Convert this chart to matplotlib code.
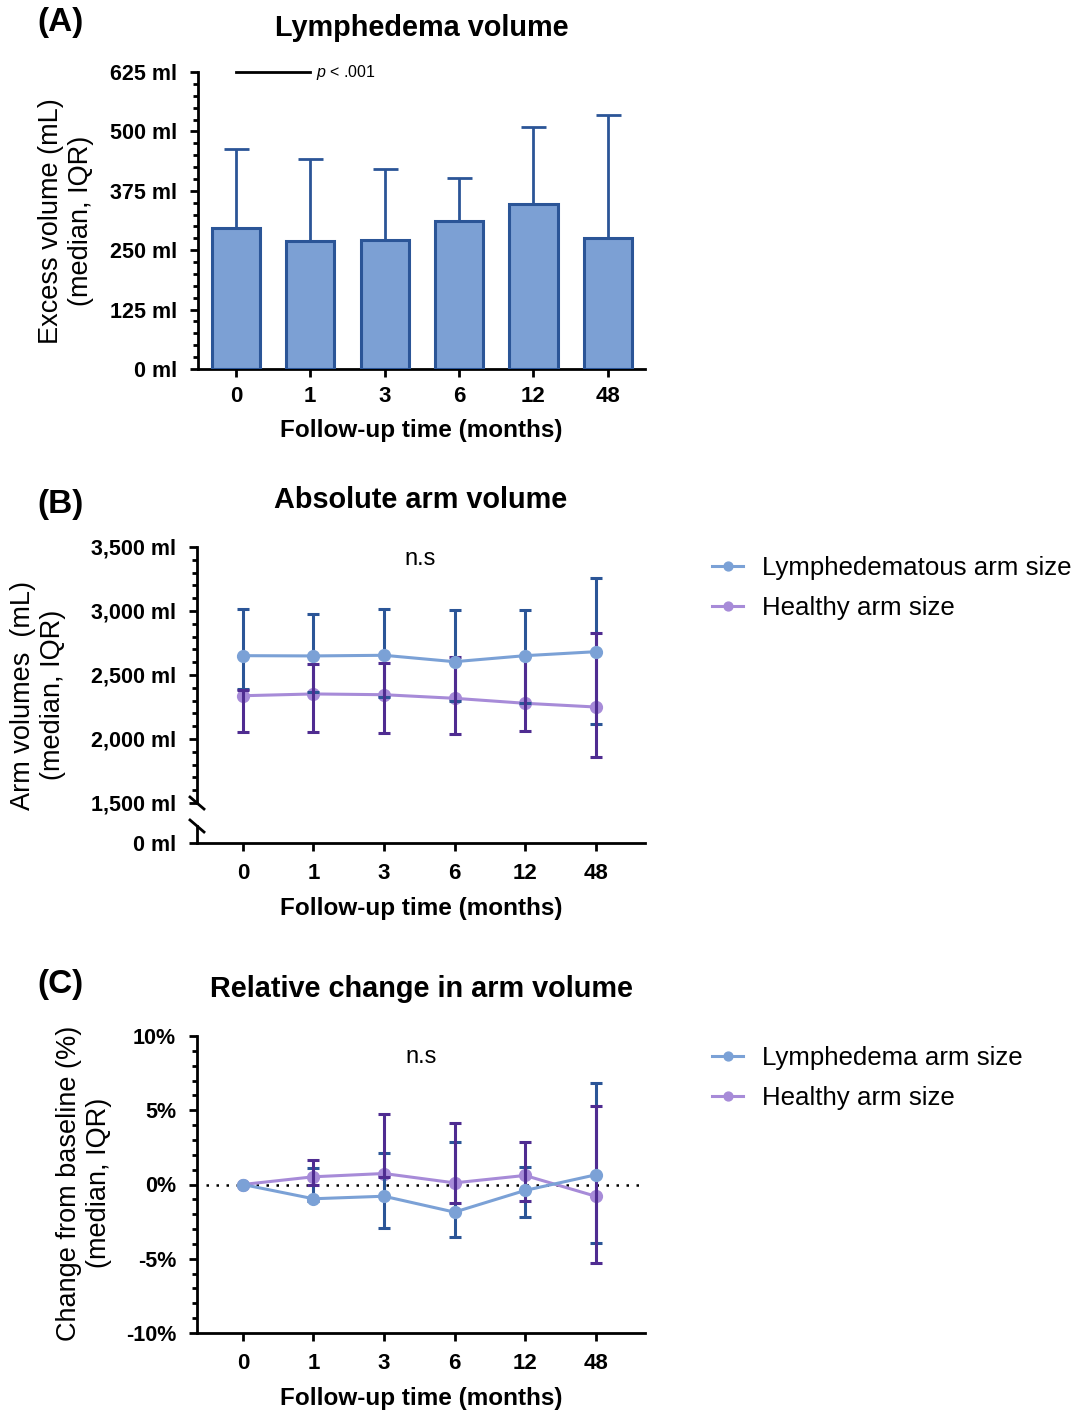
import matplotlib
matplotlib.use("Agg")
import matplotlib.pyplot as plt
from matplotlib.lines import Line2D
from matplotlib.ticker import MultipleLocator

plt.rcParams['font.family'] = ['Liberation Sans', 'DejaVu Sans']
plt.rcParams['mathtext.fontset'] = 'custom'
plt.rcParams['mathtext.it'] = 'Liberation Sans:italic'
plt.rcParams['mathtext.rm'] = 'Liberation Sans'

months = ['0', '1', '3', '6', '12', '48']

# (A) excess volume, ml (median + upper quartile)
excess_med = [297, 269, 272, 311, 347, 275]
excess_q3 = [464, 442, 421, 401, 509, 534]
excess_ticks = [0, 125, 250, 375, 500, 625]
excess_labels = ['0 ml', '125 ml', '250 ml', '375 ml', '500 ml', '625 ml']

# (B) absolute arm volume, ml
lymph_abs_med = [2651, 2649, 2654, 2604, 2651, 2682]
lymph_abs_q1 = [2388, 2365, 2328, 2297, 2279, 2115]
lymph_abs_q3 = [3013, 2977, 3013, 3005, 3008, 3255]
healthy_abs_med = [2338, 2352, 2346, 2318, 2279, 2250]
healthy_abs_q1 = [2052, 2052, 2047, 2037, 2065, 1857]
healthy_abs_q3 = [2385, 2588, 2596, 2643, 2650, 2831]
abs_ticks = [1500, 2000, 2500, 3000, 3500]
abs_labels = ['1,500 ml', '2,000 ml', '2,500 ml', '3,000 ml', '3,500 ml']

# (C) relative change from baseline, %
lymph_rel_med = [0, -0.96, -0.79, -1.86, -0.40, 0.65]
lymph_rel_q1 = [0, -1.1, -2.96, -3.55, -2.22, -3.95]
lymph_rel_q3 = [0, 1.14, 2.13, 2.87, 1.17, 6.85]
healthy_rel_med = [0, 0.52, 0.74, 0.11, 0.61, -0.79]
healthy_rel_q1 = [0, 0.0, 0.5, -1.23, -1.08, -5.30]
healthy_rel_q3 = [0, 1.64, 4.76, 4.13, 2.85, 5.28]
rel_ticks = [-10, -5, 0, 5, 10]
rel_labels = ['-10%', '-5%', '0%', '5%', '10%']

light_blue = '#7BA1D6'
dark_blue = '#2B5597'
light_purple = '#A78BD8'
dark_purple = '#4F2C91'

W, H = 1078, 1411
fig = plt.figure(figsize=(W / 100, H / 100), dpi=100)


def box(l, t, r, b):
    return [l / W, 1 - b / H, (r - l) / W, (b - t) / H]


def style(ax, bottom=True, xpad=6):
    for s in ['top', 'right']:
        ax.spines[s].set_visible(False)
    ax.spines['left'].set_linewidth(2)
    ax.spines['bottom'].set_linewidth(2)
    if not bottom:
        ax.spines['bottom'].set_visible(False)
    ax.tick_params(which='major', width=2, length=6, pad=9, labelsize=15.5)
    ax.tick_params(which='minor', width=2, length=3.5)
    ax.tick_params(axis='x', pad=xpad, labelsize=16)


def err(med, lo, hi):
    return [[m - a for m, a in zip(med, lo)], [b - m for m, b in zip(med, hi)]]


x = list(range(len(months)))
xlab = dict(fontsize=17.5, fontweight='bold', labelpad=9)
ttl = dict(fontsize=20.8, fontweight='bold')
leg = dict(bbox_transform=fig.transFigure, frameon=False, borderaxespad=0, borderpad=0, loc='upper left',
           handlelength=1.2, handletextpad=0.75, labelspacing=0.62, fontsize=18.6, markerscale=0.75)

# ---------- (A)
axA = fig.add_axes(box(198, 72, 645, 369))
style(axA)
axA.errorbar(x, excess_med, yerr=[[0] * 6, [q - m for m, q in zip(excess_med, excess_q3)]],
             fmt='none', ecolor=dark_blue, elinewidth=2, capsize=9, capthick=2, zorder=2)
axA.bar(x, excess_med, width=0.65, color='#7CA0D4', edgecolor=dark_blue, linewidth=2.2, zorder=3)
axA.set_xlim(-0.51, 5.5)
axA.set_ylim(0, 625)
axA.set_yticks(excess_ticks, excess_labels, fontweight='bold')
axA.yaxis.set_minor_locator(MultipleLocator(25))
axA.set_xticks(x, months, fontweight='bold')
axA.set_xlabel('Follow-up time (months)', **xlab)
axA.set_title('Lymphedema volume', pad=26, **ttl)
axA.plot([0, 1], [625, 625], color='black', lw=2, clip_on=False)
axA.text(1.08, 625, r'$p$ < .001', fontsize=11.5, va='center')

# ---------- (B) broken y axis
axB = fig.add_axes(box(197, 547, 645, 803))
axB0 = fig.add_axes(box(197, 826, 645, 843))
style(axB, bottom=False)
style(axB0, xpad=8.5)
axB.set_xlim(-0.65, 5.7)
axB0.set_xlim(-0.65, 5.7)
axB.set_ylim(1500, 3500)
axB0.set_ylim(0, 133)
axB.set_xticks([])
axB.set_yticks(abs_ticks, abs_labels, fontweight='bold')
axB.yaxis.set_minor_locator(MultipleLocator(100))
axB0.set_yticks([0], ['0 ml'], fontweight='bold')
axB0.set_xticks(x, months, fontweight='bold')
axB0.set_xlabel('Follow-up time (months)', **xlab)
axB.set_title('Absolute arm volume', pad=28, **ttl)

lb, = axB.plot(x, lymph_abs_med, color=light_blue, lw=2.2, marker='o', ms=8.5, zorder=5,
               label='Lymphedematous arm size')
hb, = axB.plot(x, healthy_abs_med, color=light_purple, lw=2.2, marker='o', ms=8.5, zorder=2,
               label='Healthy arm size')
axB.errorbar(x, lymph_abs_med, yerr=err(lymph_abs_med, lymph_abs_q1, lymph_abs_q3), fmt='none',
             ecolor=dark_blue, elinewidth=2.2, capsize=4.2, capthick=2.2, zorder=3)
axB.errorbar(x, healthy_abs_med, yerr=err(healthy_abs_med, healthy_abs_q1, healthy_abs_q3), fmt='none',
             ecolor=dark_purple, elinewidth=2.2, capsize=4.2, capthick=2.2, zorder=4)
axB.text(0.498, 0.955, 'n.s', transform=axB.transAxes, ha='center', va='center', fontsize=17)
axB.legend(handles=[lb, hb], bbox_to_anchor=(712 / W, 1 - 556 / H), **leg)

for cy in [803, 826]:
    fig.add_artist(Line2D([190 / W, 204 / W], [1 - (cy - 6) / H, 1 - (cy + 6) / H],
                          color='black', lw=2))

# ---------- (C)
axC = fig.add_axes(box(197, 1036, 645, 1333))
style(axC, xpad=8.5)
axC.set_xlim(-0.65, 5.7)
axC.set_ylim(-10, 10)
axC.set_yticks(rel_ticks, rel_labels, fontweight='bold')
axC.yaxis.set_minor_locator(MultipleLocator(1))
axC.set_xticks(x, months, fontweight='bold')
axC.set_xlabel('Follow-up time (months)', **xlab)
axC.set_title('Relative change in arm volume', pad=28, **ttl)
axC.axhline(0, xmin=0.02, xmax=0.99, color='black', ls=(0, (1, 3)), lw=1.8, zorder=1)

lc, = axC.plot(x, lymph_rel_med, color=light_blue, lw=2.2, marker='o', ms=8.5, zorder=5,
               label='Lymphedema arm size')
hc, = axC.plot(x, healthy_rel_med, color=light_purple, lw=2.2, marker='o', ms=8.5, zorder=2,
               label='Healthy arm size')
axC.errorbar(x, lymph_rel_med, yerr=err(lymph_rel_med, lymph_rel_q1, lymph_rel_q3), fmt='none',
             ecolor=dark_blue, elinewidth=2.2, capsize=4.2, capthick=2.2, zorder=3)
axC.errorbar(x, healthy_rel_med, yerr=err(healthy_rel_med, healthy_rel_q1, healthy_rel_q3), fmt='none',
             ecolor=dark_purple, elinewidth=2.2, capsize=4.2, capthick=2.2, zorder=4)
axC.text(0.5, 0.93, 'n.s', transform=axC.transAxes, ha='center', va='center', fontsize=17)
axC.legend(handles=[lc, hc], bbox_to_anchor=(712 / W, 1 - 1046 / H), **leg)

# panel letters and y labels
for lab, yy in [('(A)', 22), ('(B)', 505), ('(C)', 985)]:
    fig.text(37 / W, 1 - yy / H, lab, fontsize=24, fontweight='bold', ha='left', va='center')

for txt, xx, yy in [('Excess volume (mL)\n(median, IQR)', 66, 221),
                    ('Arm volumes  (mL)\n(median, IQR)', 38, 695),
                    ('Change from baseline (%)\n(median, IQR)', 84, 1183)]:
    fig.text(xx / W, 1 - yy / H, txt, rotation=90, ha='center', va='center',
             fontsize=19.5, multialignment='center')

fig.savefig('out.png', dpi=100)
